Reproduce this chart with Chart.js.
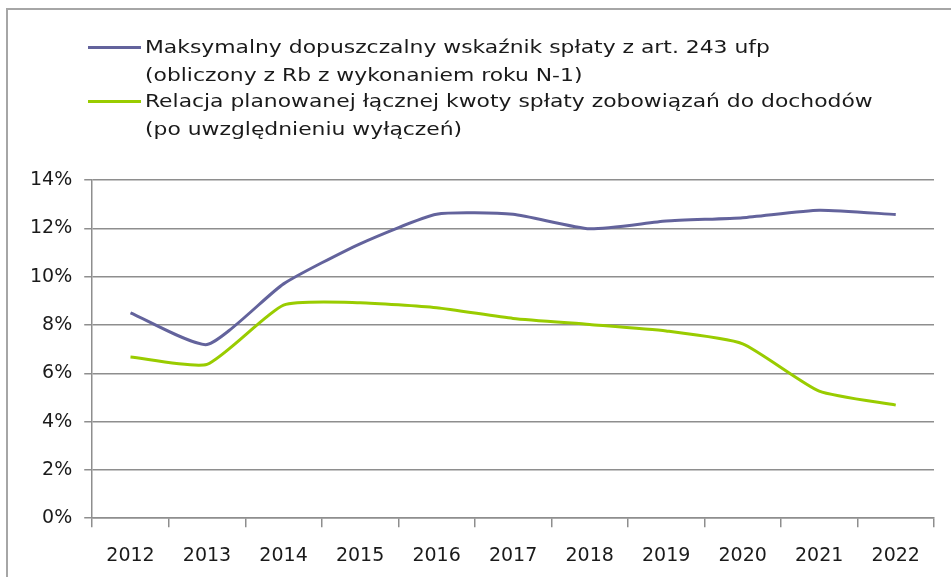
<!DOCTYPE html>
<html>
<head>
<meta charset="utf-8">
<script src="https://cdn.jsdelivr.net/npm/chart.js@4.4.0/dist/chart.umd.min.js"></script>
<style>
  html, body { margin: 0; padding: 0; background: #fff; }
  #wrap { position: relative; width: 951px; height: 577px; overflow: hidden; }
  #ramka { position: absolute; left: 6px; top: 8px; width: 1000px; height: 700px; border-top: 2px solid #a6a6a6; border-left: 2px solid #a6a6a6; }
  #legenda { position: absolute; left: 88px; top: 33px; font-family: "DejaVu Sans Condensed", "DejaVu Sans", sans-serif; font-size: 18px; color: #1a1a1a; line-height: 28px; white-space: nowrap; }
  .poz { position: relative; padding-left: 57px; }
  .poz + .poz { margin-top: -2px; }
  .kreska { position: absolute; left: 0; top: 13px; width: 53px; height: 3px; }
  .tekst { display: inline-block; transform: scaleX(1.35); transform-origin: 0 50%; }
  #myChart { position: absolute; left: 0; top: 0; }
</style>
</head>
<body>
<div id="wrap">
  <div id="ramka"></div>
  <canvas id="myChart" width="951" height="585"></canvas>
  <div id="legenda"></div>
</div>
<script>
var lata = ["2012","2013","2014","2015","2016","2017","2018","2019","2020","2021","2022"];

var maksymalny = [8.50, 7.19, 9.70, 11.36, 12.58, 12.58, 11.98, 12.30, 12.44, 12.75, 12.57];
var relacja = [6.67, 6.37, 8.82, 8.92, 8.71, 8.27, 8.02, 7.75, 7.22, 5.26, 4.68];

var nazwaMaks = ["Maksymalny dopuszczalny wskaźnik spłaty z art. 243 ufp", "(obliczony z Rb z wykonaniem roku N-1)"];
var nazwaRel = ["Relacja planowanej łącznej kwoty spłaty zobowiązań do dochodów", "(po uwzględnieniu wyłączeń)"];

var kolorMaks = "#63639c";
var kolorRel = "#99cc00";

var ctx = document.getElementById('myChart').getContext('2d');
var siatka = "#8e8e8e";

var myChart = new Chart(ctx, {
    type: 'line',
    data: {
        labels: lata,
        datasets: [{
            label: nazwaMaks,
            data: maksymalny,
            borderColor: kolorMaks,
            backgroundColor: kolorMaks,
            borderWidth: 3,
            pointRadius: 0,
            tension: 0.18
        }, {
            label: nazwaRel,
            data: relacja,
            borderColor: kolorRel,
            backgroundColor: kolorRel,
            borderWidth: 3,
            pointRadius: 0,
            tension: 0.18
        }]
    },
    options: {
        responsive: false,
        animation: false,
        layout: { padding: { top: 180, left: 18, right: 17, bottom: 1 } },
        plugins: {
            legend: { display: false },
            tooltip: { enabled: false }
        },
        scales: {
            x: {
                offset: true,
                grid: { offset: true, drawOnChartArea: false, color: siatka, lineWidth: 1.5, tickLength: 9 },
                border: { color: siatka, width: 1.5 },
                ticks: { color: "#1a1a1a", font: { family: "DejaVu Sans", size: 19 }, padding: 17, maxRotation: 0 }
            },
            y: {
                min: 0,
                max: 14,
                grid: { color: siatka, lineWidth: 1.5, tickLength: 8 },
                border: { color: siatka, width: 1.5 },
                ticks: {
                    stepSize: 2,
                    color: "#1a1a1a",
                    font: { family: "DejaVu Sans", size: 19 },
                    padding: 12,
                    callback: function (v) { return v + "%"; }
                }
            }
        }
    }
});

// legenda jako HTML, bo opisy są dwulinijkowe
var leg = document.getElementById("legenda");
myChart.data.datasets.forEach(function (ds) {
    var poz = document.createElement("div");
    poz.className = "poz";
    poz.innerHTML = '<span class="kreska" style="background:' + ds.borderColor + '"></span>' +
        ds.label.map(function (l) { return '<span class="tekst">' + l + '</span>'; }).join("<br>");
    leg.appendChild(poz);
});
</script>
</body>
</html>
